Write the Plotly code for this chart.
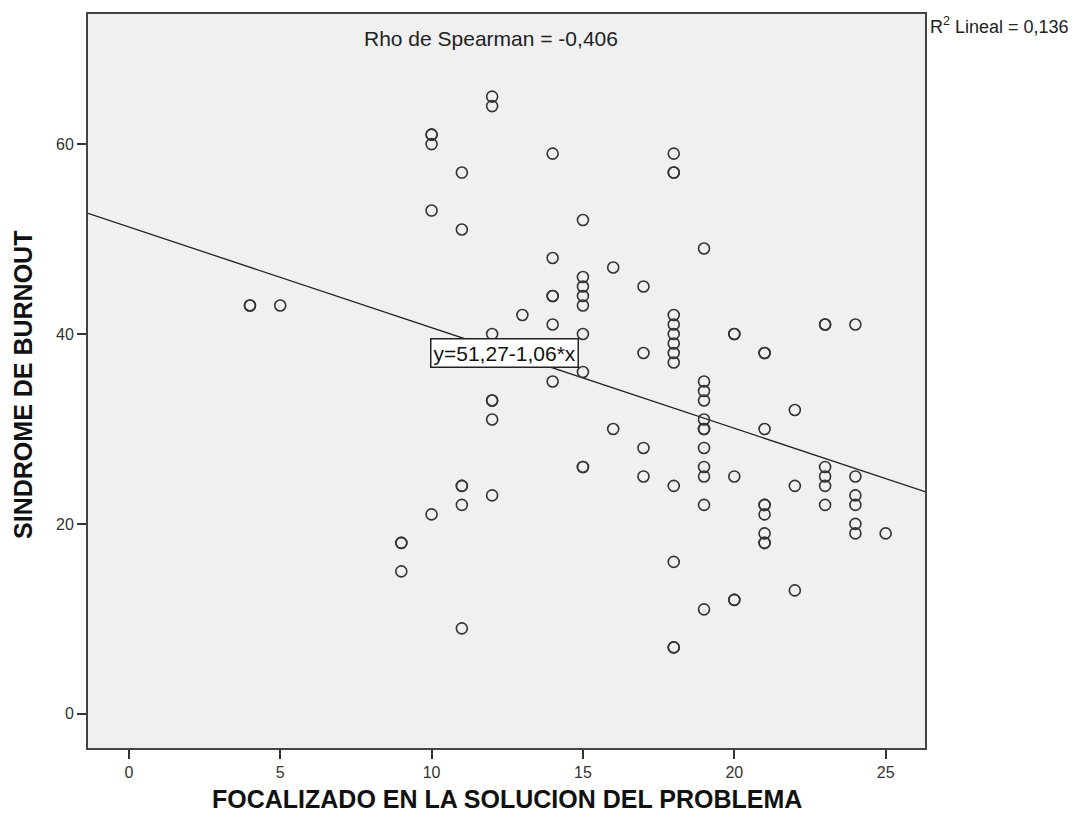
import plotly.graph_objects as go

# Data (x = FOCALIZADO..., y = SINDROME DE BURNOUT)
x_vals = [4, 4, 5,
          9, 9, 9,
          10, 10, 10, 10, 10,
          11, 11, 11, 11, 11, 11,
          12, 12, 12, 12, 12, 12, 12,
          13,
          14, 14, 14, 14, 14, 14,
          15, 15, 15, 15, 15, 15, 15, 15, 15,
          16, 16,
          17, 17, 17, 17,
          18, 18, 18, 18, 18, 18, 18, 18, 18, 18, 18, 18, 18,
          19, 19, 19, 19, 19, 19, 19, 19, 19, 19, 19, 19,
          20, 20, 20, 20, 20,
          21, 21, 21, 21, 21, 21, 21, 21, 21,
          22, 22, 22,
          23, 23, 23, 23, 23, 23,
          24, 24, 24, 24, 24, 24,
          25]
y_vals = [43, 43, 43,
          18, 18, 15,
          61, 61, 60, 53, 21,
          57, 51, 24, 24, 22, 9,
          65, 64, 40, 33, 33, 31, 23,
          42,
          59, 48, 44, 44, 41, 35,
          52, 46, 45, 44, 43, 40, 36, 26, 26,
          47, 30,
          45, 38, 28, 25,
          59, 57, 57, 42, 41, 40, 39, 38, 37, 24, 16, 7, 7,
          49, 35, 34, 33, 31, 30, 30, 28, 26, 25, 22, 11,
          40, 40, 25, 12, 12,
          38, 38, 30, 22, 22, 21, 19, 18, 18,
          32, 24, 13,
          41, 41, 26, 25, 24, 22,
          41, 25, 23, 22, 20, 19,
          19]

intercept = 51.27
slope = -1.06
x_range = [-1.35, 26.3]
y_range = [-3.6, 73.7]
x_ticks = [0, 5, 10, 15, 20, 25]
y_ticks = [0, 20, 40, 60]

line_x = x_range
line_y = [intercept + slope * v for v in line_x]

fig = go.Figure()
fig.add_trace(go.Scatter(
    x=line_x, y=line_y, mode="lines",
    line=dict(color="#222222", width=1.3), hoverinfo="skip", showlegend=False))
fig.add_trace(go.Scatter(
    x=x_vals, y=y_vals, mode="markers",
    marker=dict(symbol="circle-open", size=11, color="#333333", line=dict(width=1.6, color="#333333")),
    showlegend=False))

font_main = "Liberation Sans, Arial, sans-serif"

fig.add_annotation(x=12.4, y=38.0, xref="x", yref="y",
                   text="y=51,27-1,06*x", showarrow=False,
                   font=dict(family=font_main, size=21, color="#111111"),
                   bgcolor="white", bordercolor="#222222", borderwidth=1.5, borderpad=2)
fig.add_annotation(x=0.4815, y=0.966, xref="paper", yref="paper", xanchor="center", yanchor="middle",
                   text="Rho de Spearman = -0,406", showarrow=False,
                   font=dict(family=font_main, size=21, color="#222222"))
fig.add_annotation(x=1.0036, y=0.984, xref="paper", yref="paper", xanchor="left", yanchor="middle",
                   text="R<sup>2</sup> Lineal = 0,136", showarrow=False,
                   font=dict(family=font_main, size=18, color="#222222"))
fig.add_annotation(x=0.5006, y=-0.069, xref="paper", yref="paper", xanchor="center", yanchor="middle",
                   text="<b>FOCALIZADO EN LA SOLUCION DEL PROBLEMA</b>", showarrow=False,
                   font=dict(family=font_main, size=25, color="#111111"))
fig.add_annotation(x=-0.0777, y=0.4946, xref="paper", yref="paper", xanchor="center", yanchor="middle",
                   text="<b>SINDROME DE BURNOUT</b>", showarrow=False, textangle=-90,
                   font=dict(family=font_main, size=25, color="#111111"))

fig.update_layout(
    width=1077, height=830,
    margin=dict(l=88, r=152, t=12, b=82),
    paper_bgcolor="white", plot_bgcolor="#f0f0f0",
    font=dict(family=font_main, color="#222222"),
    xaxis=dict(range=x_range, tickvals=x_ticks, showgrid=False, zeroline=False,
               showline=True, mirror=True, linecolor="#444444", linewidth=2,
               ticks="outside", ticklen=9, tickwidth=1.5, tickcolor="#333333",
               tickfont=dict(size=16, color="#333333", family=font_main)),
    yaxis=dict(range=y_range, tickvals=y_ticks, showgrid=False, zeroline=False,
               showline=True, mirror=True, linecolor="#444444", linewidth=2,
               ticks="outside", ticklen=9, tickwidth=1.5, tickcolor="#333333",
               tickfont=dict(size=16, color="#333333", family=font_main)),
)

fig.write_html("out.html")
